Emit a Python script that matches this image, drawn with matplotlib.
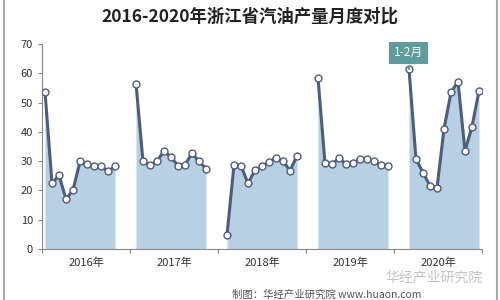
import matplotlib
matplotlib.use('Agg')
import matplotlib.pyplot as plt
from matplotlib.lines import Line2D
import numpy as np

plt.rcParams['font.family'] = ['Noto Sans CJK SC', 'DejaVu Sans']

years = ['2016年', '2017年', '2018年', '2019年', '2020年']
# 1-2月合并为一个点, 之后为3-12月 (万吨)
v2016 = [53.6, 22.4, 25.2, 17.0, 20.2, 29.9, 29.1, 28.2, 28.2, 26.5, 28.2]
v2017 = [56.5, 29.9, 28.8, 29.9, 33.6, 31.3, 28.5, 28.8, 32.7, 29.9, 27.5]
v2018 = [4.7, 28.8, 28.5, 22.4, 26.9, 28.2, 29.8, 31.0, 30.1, 26.7, 31.9]
v2019 = [58.4, 29.3, 29.0, 31.0, 29.0, 29.5, 30.7, 30.7, 29.9, 28.8, 28.2]
v2020 = [61.5, 30.7, 26.1, 21.6, 20.8, 41.0, 53.5, 57.2, 33.5, 41.8, 54.0]
series = [v2016, v2017, v2018, v2019, v2020]

line_c = '#4f5c7c'
fill_c = '#b7d0e4'
grey = '#888888'

fig = plt.figure(figsize=(5, 3), dpi=100)
ax = fig.add_axes([0.084, 0.17, 0.88, 0.683])

step = 13
for i, vals in enumerate(series):
    xs = np.arange(len(vals)) + i * step
    ax.fill_between(xs, vals, color=fill_c, lw=0, zorder=1)
    ax.plot(xs, vals, color=line_c, lw=2.2, marker='o', mfc='white', mec=line_c,
            ms=5, mew=1, zorder=3)

x0, x1 = -0.43, 62.43
ax.set_xlim(x0, x1)
ax.set_ylim(0, 70)
ticks = np.linspace(x0, x1, 6)
ax.set_xticks(ticks)
ax.set_xticklabels([''] * 6)
ax.set_xticks((ticks[:-1] + ticks[1:]) / 2, minor=True)
ax.set_xticklabels(years, minor=True, fontsize=8, color='#333333')
ax.tick_params(axis='x', which='major', length=3, color=grey)
ax.tick_params(axis='x', which='minor', length=0, pad=6)
ax.set_yticks(range(0, 71, 10))
ax.tick_params(axis='y', labelsize=8, length=3, color=grey, labelcolor='#333333')

for s in ['top', 'right']:
    ax.spines[s].set_visible(False)
for s in ['left', 'bottom']:
    ax.spines[s].set_color(grey)

ax.annotate('1-2月', xy=(52, 61.5), xytext=(51.9, 67.0), ha='center', va='center',
            fontsize=8.5, color='white', annotation_clip=False,
            bbox=dict(boxstyle='square,pad=0.4', fc='#5f9c9c', ec='none'),
            arrowprops=dict(arrowstyle='-', color='#5f9c9c', lw=1.5))

fig.text(0.5, 0.945, '2016-2020年浙江省汽油产量月度对比', ha='center', va='center',
         fontsize=12.5, fontweight='bold', color='#222222')

fig.text(0.965, 0.075, '华经产业研究院', ha='right', va='center', fontsize=10,
         color='#c4c4c4', zorder=0)
fig.text(0.465, 0.018, '制图：华经产业研究院 www.huaon.com', ha='left', va='center',
         fontsize=7.5, color='#555555')

fig.add_artist(Line2D([0.008, 0.008], [0, 1], transform=fig.transFigure, color='#aaaaaa', lw=1.5))
fig.add_artist(Line2D([0.994, 0.994], [0, 1], transform=fig.transFigure, color='#aaaaaa', lw=1.5))

fig.savefig('out.png', dpi=100)
